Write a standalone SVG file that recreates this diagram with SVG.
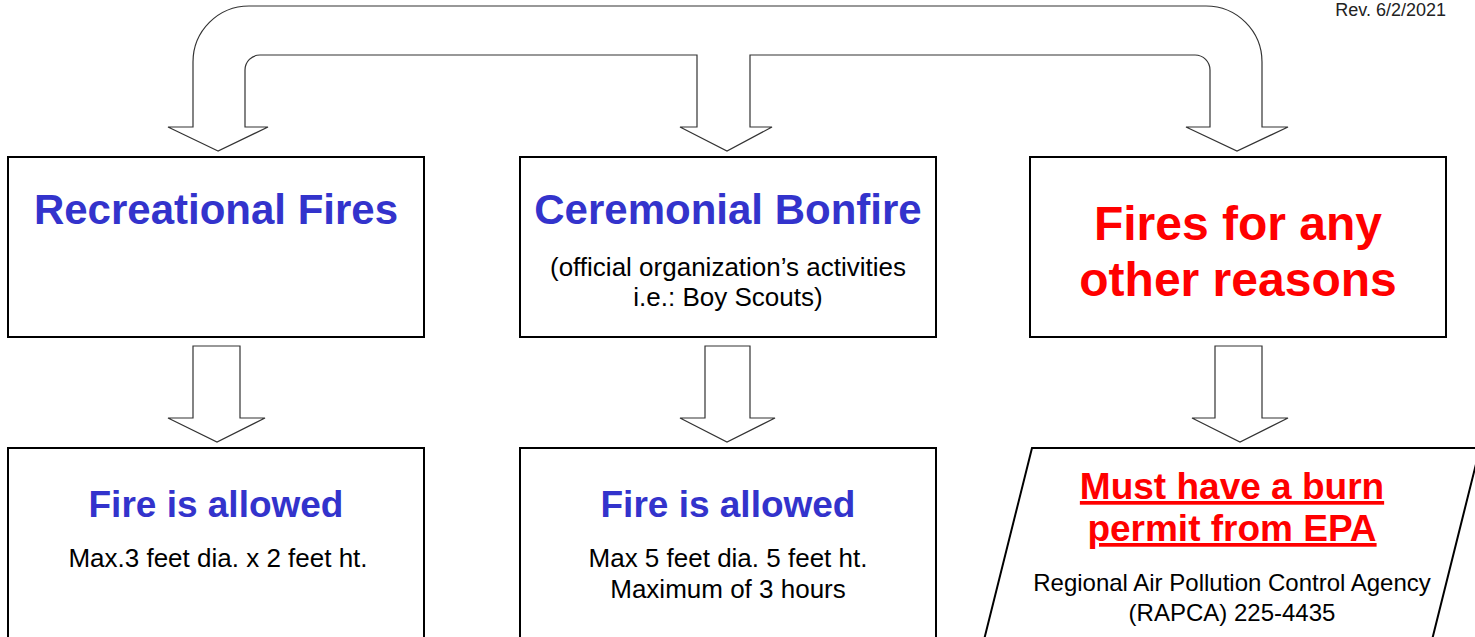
<svg xmlns="http://www.w3.org/2000/svg" width="1475" height="637" viewBox="0 0 1475 637">
<style>
.box{fill:#fff;stroke:#000;stroke-width:2}
.arr{fill:#fff;stroke:#333;stroke-width:1.2;stroke-linejoin:miter}
text{font-family:"Liberation Sans",Arial,sans-serif;text-anchor:middle}
.blue{fill:#3333CC;font-weight:bold}
.red{fill:#FF0000;font-weight:bold}
.body{fill:#000;font-size:26px}
</style>
<rect width="1475" height="637" fill="#fff"/>
<text x="1446" y="16" style="font-size:18px;text-anchor:end" fill="#222">Rev. 6/2/2021</text>
<g id="connectors">
<path class="arr" d="M218 151 L168 127 H193 V62 A56 56 0 0 1 249 6 H1206 A56 56 0 0 1 1262 62 V127 H1288 L1237 151 L1186 127 H1210 V70 A15 15 0 0 0 1195 55 H750 V127 H772 L727 151 L680 127 H697 V55 H260 A15 15 0 0 0 245 70 V127 H268 Z"/>
<path class="arr" d="M193 346 H240 V418 H265 L217 442 L168 418 H193 Z"/>
<path class="arr" d="M705 346 H750 V418 H775 L727 442 L680 418 H705 Z"/>
<path class="arr" d="M1215 346 H1262 V418 H1288 L1240 442 L1192 418 H1215 Z"/>
</g>
<g id="recreational">
<rect class="box" x="8" y="157" width="416" height="180"/>
<text class="blue" x="216" y="224" font-size="42">Recreational Fires</text>
</g>
<g id="ceremonial">
<rect class="box" x="520" y="157" width="416" height="180"/>
<text class="blue" x="728" y="224" font-size="42">Ceremonial Bonfire</text>
<text class="body" x="728" y="276">(official organization’s activities</text>
<text class="body" x="728" y="306">i.e.: Boy Scouts)</text>
</g>
<g id="other">
<rect class="box" x="1030" y="157" width="416" height="180"/>
<text class="red" x="1238" y="240" font-size="48">Fires for any</text>
<text class="red" x="1238" y="296" font-size="48">other reasons</text>
</g>
<g id="allowed1">
<rect class="box" x="8" y="448" width="416" height="200"/>
<text class="blue" x="216" y="517" font-size="37">Fire is allowed</text>
<text class="body" x="218" y="567">Max.3 feet dia. x 2 feet ht.</text>
</g>
<g id="allowed2">
<rect class="box" x="520" y="448" width="416" height="200"/>
<text class="blue" x="728" y="517" font-size="37">Fire is allowed</text>
<text class="body" x="728" y="567">Max 5 feet dia. 5 feet ht.</text>
<text class="body" x="728" y="598">Maximum of 3 hours</text>
</g>
<g id="permit">
<path class="box" d="M1032 448 H1480 L1432 640 H984 Z"/>
<text class="red" x="1232" y="499" font-size="37" text-decoration="underline">Must have a burn</text>
<text class="red" x="1232" y="541" font-size="37" text-decoration="underline">permit from EPA</text>
<text x="1232" y="591" font-size="24" fill="#000">Regional Air Pollution Control Agency</text>
<text x="1232" y="621" font-size="24" fill="#000">(RAPCA) 225-4435</text>
</g>
</svg>
